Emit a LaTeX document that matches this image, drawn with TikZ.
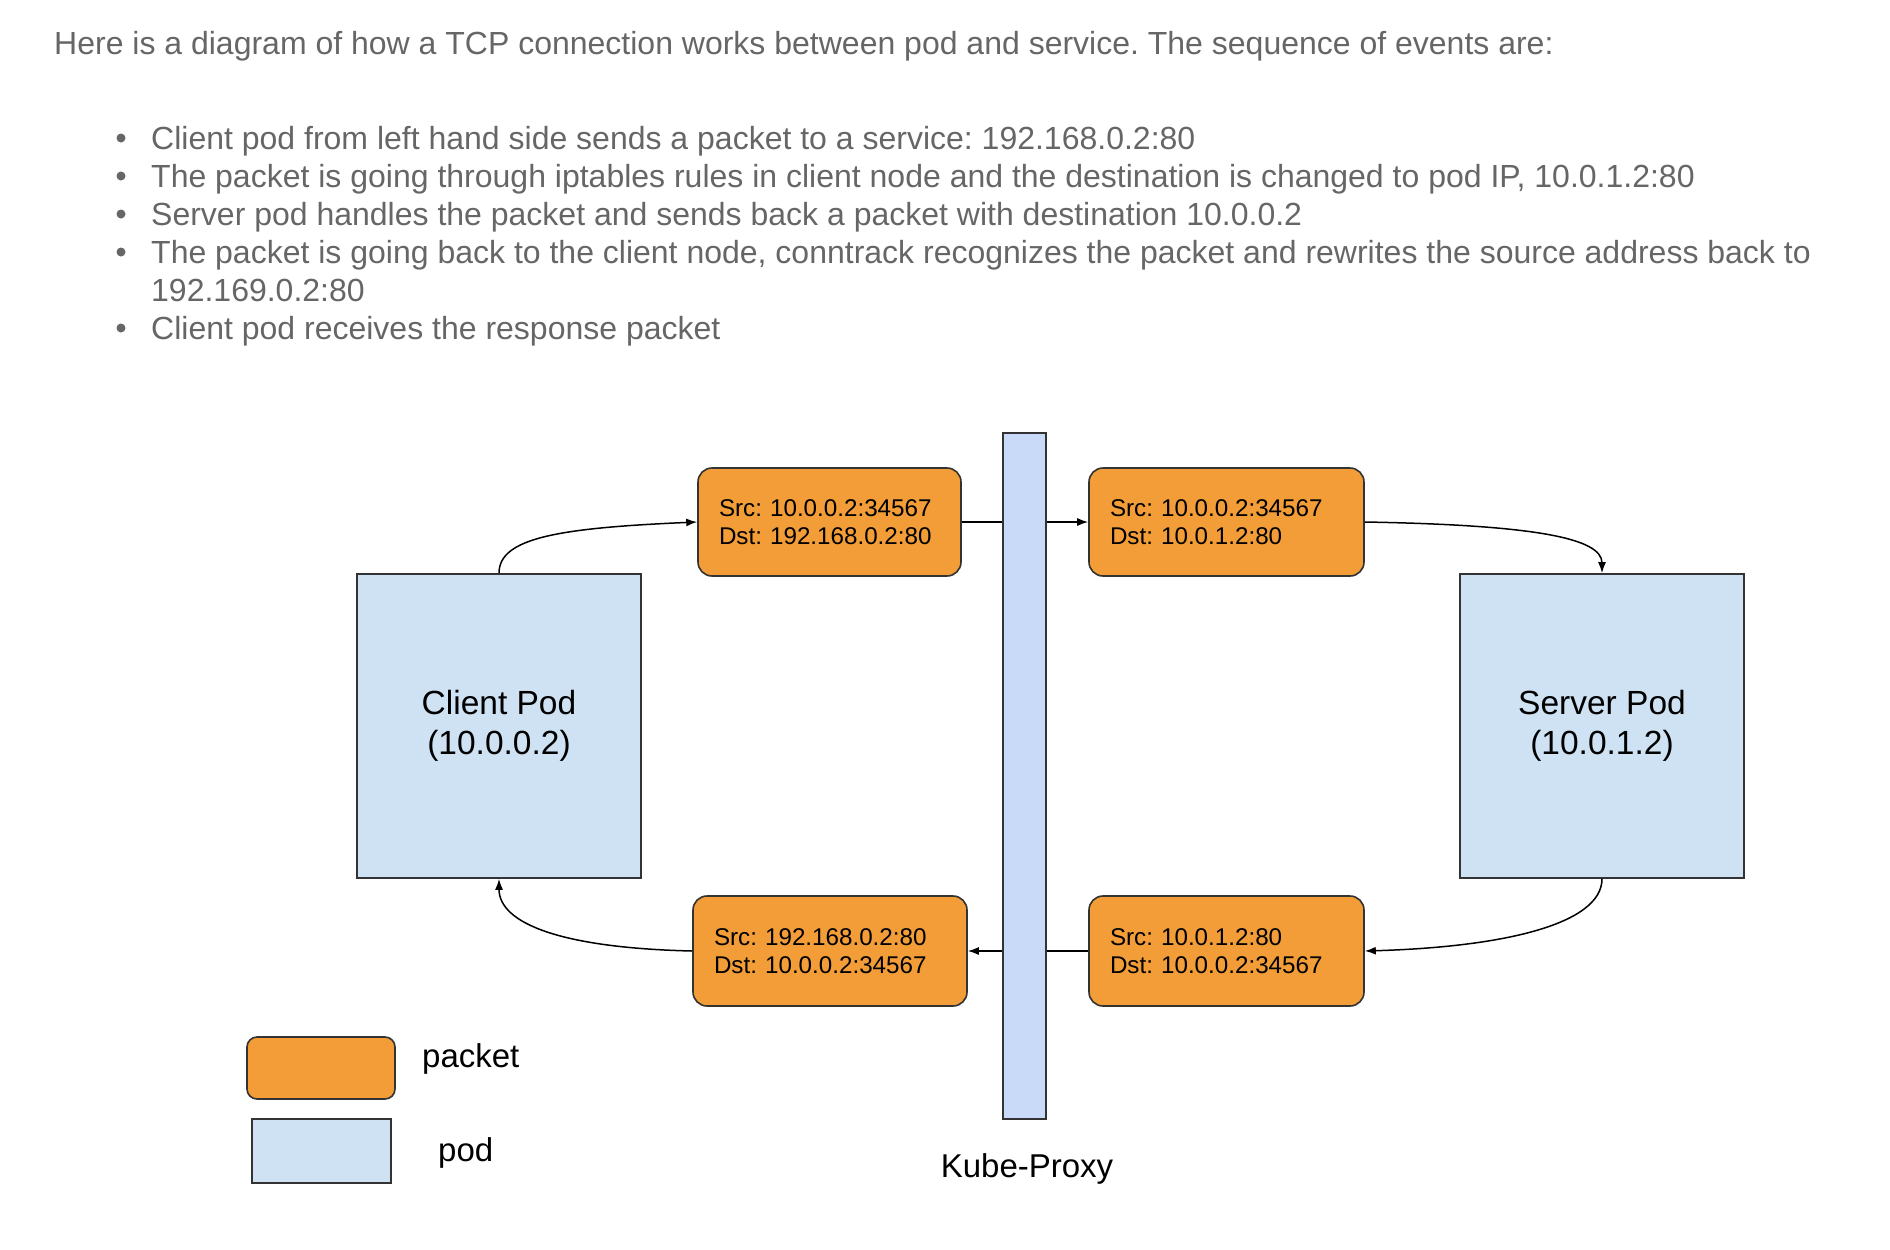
\documentclass[tikz,border=0pt]{standalone}
\usepackage{fontspec}
\setmainfont{Liberation Sans}
\usetikzlibrary{arrows.meta}
\frenchspacing
\definecolor{txtgray}{HTML}{666666}
\definecolor{pktorange}{HTML}{F29D38}
\definecolor{podblue}{HTML}{CFE2F3}
\definecolor{proxyblue}{HTML}{C9DAF8}
\definecolor{edge}{HTML}{333333}
\tikzset{
  prose/.style={anchor=base west, inner sep=0pt, text=txtgray, font=\fontsize{32}{38}\selectfont},
  packet/.style={draw=edge, line width=1.6pt, fill=pktorange, rounded corners=14pt, text width=#1,
    inner xsep=21pt, inner ysep=0pt, minimum height=108pt, align=left, font=\fontsize{24.2}{28}\selectfont},
  pod/.style={draw=edge, line width=1.6pt, fill=podblue, minimum width=284pt, minimum height=304pt,
    align=center, font=\fontsize{33.5}{40}\selectfont},
  link/.style={line width=1.5pt, -{Latex[length=11pt,width=8pt]}},
  legend/.style={anchor=base west, inner sep=0pt, font=\fontsize{33}{40}\selectfont}
}
\begin{document}
\begin{tikzpicture}[x=1pt,y=1pt]
  \useasboundingbox (0,0) rectangle (1890,-1250);
  % text above the diagram
  \node[prose] (title) at (54,-54) {Here is a diagram of how a TCP connection works between pod and service. The sequence of events are:};
  \foreach \y in {149,187,225,263,339} \fill[txtgray] (121,{11-\y}) circle (4.5);
  \node[prose] (l1) at (151,-149) {Client pod from left hand side sends a packet to a service: 192.168.0.2:80};
  \node[prose] (l2) at (151,-187) {The packet is going through iptables rules in client node and the destination is changed to pod IP, 10.0.1.2:80};
  \node[prose] (l3) at (151,-225) {Server pod handles the packet and sends back a packet with destination 10.0.0.2};
  \node[prose] (l4) at (151,-263) {The packet is going back to the client node, conntrack recognizes the packet and rewrites the source address back to};
  \node[prose] (l4b) at (151,-301) {192.169.0.2:80};
  \node[prose] (l5) at (151,-339) {Client pod receives the response packet};
  % pods and packets
  \node[pod] (client) at (499,-726) {Client Pod\\(10.0.0.2)};
  \node[pod] (server) at (1602,-726) {Server Pod\\(10.0.1.2)};
  \node[packet=221pt] (p1) at (829.5,-522) {Src: 10.0.0.2:34567\\Dst: 192.168.0.2:80};
  \node[packet=233pt] (p2) at (1226.5,-522) {Src: 10.0.0.2:34567\\Dst: 10.0.1.2:80};
  \node[packet=232pt, minimum height=110pt] (p3) at (830,-951) {Src: 192.168.0.2:80\\Dst: 10.0.0.2:34567};
  \node[packet=233pt, minimum height=110pt] (p4) at (1226.5,-951) {Src: 10.0.1.2:80\\Dst: 10.0.0.2:34567};
  \draw[link] (client.north) .. controls +(0,35) and +(-140,-6) .. (p1.west);
  \draw[link] (p1) -- (p2);
  \draw[link] (p2.east) .. controls +(170,-3) and +(0,35) .. (server.north);
  \draw[link] (server.south) .. controls +(0,-45) and +(140,4) .. (p4.east);
  \draw[link] (p4) -- (p3);
  \draw[link] (p3.west) .. controls +(-130,3) and +(0,-45) .. (client.south);
  % kube-proxy goes over the middle links
  \node[draw=edge, line width=1.6pt, fill=proxyblue, minimum width=43pt, minimum height=686pt, inner sep=0pt] (proxy) at (1024.5,-776) {};
  \node[legend, anchor=base] (proxylabel) at (1027,-1177) {Kube-Proxy};
  % legend
  \node[draw=edge, line width=1.6pt, fill=pktorange, rounded corners=10pt, minimum width=148pt, minimum height=62pt] (keypacket) at (321,-1068) {};
  \node[legend] (keypackettext) at (422,-1067) {packet};
  \node[draw=edge, line width=1.6pt, fill=podblue, minimum width=139pt, minimum height=64pt] (keypod) at (321.5,-1151) {};
  \node[legend] (keypodtext) at (438,-1161) {pod};
\end{tikzpicture}
\end{document}
